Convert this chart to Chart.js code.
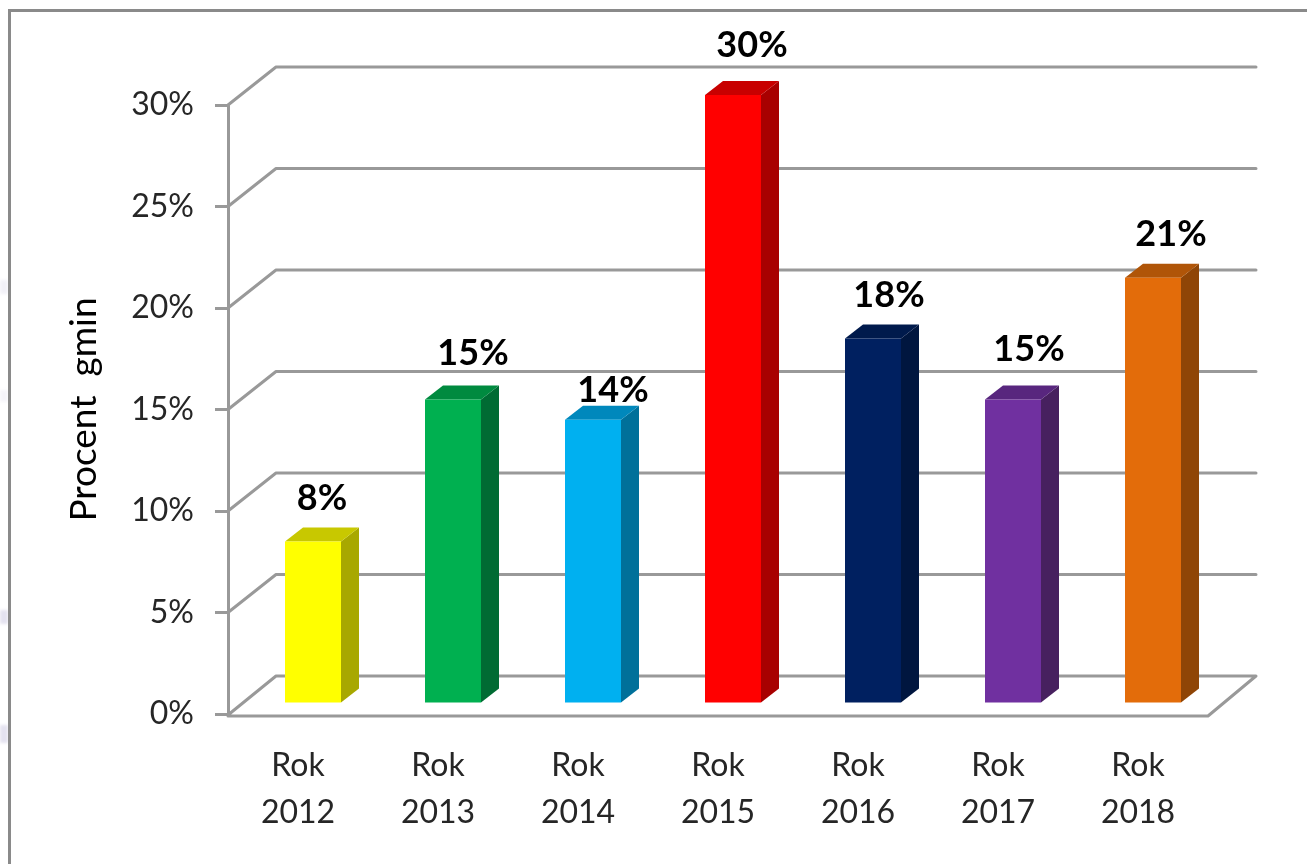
<!DOCTYPE html>
<html><head><meta charset="utf-8">
<style>
html,body{margin:0;padding:0;background:#fff;width:1307px;height:864px;overflow:hidden}
#frame{position:absolute;left:8px;top:9px;width:1299px;height:855px;border-left:3px solid #8a8a8a;border-top:3px solid #8a8a8a;box-sizing:border-box}
.mark{position:absolute;left:0;width:8px;background:#e4e2f0;filter:blur(1.5px)}
canvas{position:absolute;left:0;top:0}
</style>
<script src="https://cdn.jsdelivr.net/npm/chart.js@4"></script>
</head><body>
<div class="mark" style="top:280px;height:14px;opacity:.5"></div>
<div class="mark" style="top:390px;height:12px;opacity:.35"></div>
<div class="mark" style="top:610px;height:14px"></div>
<div class="mark" style="top:725px;height:18px"></div>
<div id="frame"></div>
<canvas id="c" width="1307" height="864"></canvas>
<script>
const categories = [["Rok","2012"],["Rok","2013"],["Rok","2014"],["Rok","2015"],["Rok","2016"],["Rok","2017"],["Rok","2018"]];
const values = [8,15,14,30,18,15,21];
const frontColors = ["#FFFF00","#00B050","#00B0F0","#FF0000","#002060","#7030A0","#E36C0A"];
const topColors   = ["#C8C800","#008A3F","#0088BC","#C80000","#001A4C","#58267E","#B05508"];
const sideColors  = ["#A8A800","#006B33","#00709A","#A80000","#00163F","#47205F","#8F4506"];
const yTicks = [0,5,10,15,20,25,30];
const labelShift = [[9,-43],[20,-46],[20,-29],[19,-50],[16,-43],[16,-50],[18,-43]];
const wallColor = "#999999";
const depthX = 48, depthY = 38;
const barDX = 15, barDY = -10, sideDX = 18, sideDY = 14;
const fontName = "Lato, Carlito, sans-serif";

const threeD = {
  id:"threeD",
  beforeDatasetsDraw(chart){
    const {ctx,chartArea:a,scales:{y}} = chart;
    ctx.save();
    ctx.strokeStyle = wallColor; ctx.lineWidth = 3; ctx.lineJoin="round"; ctx.lineCap="round";
    yTicks.forEach(v=>{
      const py = y.getPixelForValue(v);
      if(v===0) return;
      ctx.beginPath();
      ctx.moveTo(a.left,py); ctx.lineTo(a.left+depthX,py-depthY); ctx.lineTo(a.right+depthX,py-depthY);
      ctx.stroke();
    });
    const b = a.bottom+1;
    ctx.beginPath();
    ctx.moveTo(a.left,b); ctx.lineTo(a.left+depthX,a.bottom-depthY); ctx.lineTo(a.right+depthX,a.bottom-depthY);
    ctx.lineTo(a.right,b+1); ctx.lineTo(a.left,b+1);
    ctx.stroke();
    chart.getDatasetMeta(0).data.forEach((el,i)=>{
      const l = el.x-el.width/2+barDX, r = el.x+el.width/2+barDX, t = el.y+barDY, bt = el.base+barDY;
      ctx.fillStyle = sideColors[i];
      ctx.beginPath(); ctx.moveTo(r,t); ctx.lineTo(r+sideDX,t-sideDY); ctx.lineTo(r+sideDX,bt-sideDY); ctx.lineTo(r,bt); ctx.closePath(); ctx.fill();
      ctx.fillStyle = topColors[i];
      ctx.beginPath(); ctx.moveTo(l,t); ctx.lineTo(l+sideDX,t-sideDY); ctx.lineTo(r+sideDX,t-sideDY); ctx.lineTo(r,t); ctx.closePath(); ctx.fill();
    });
    ctx.restore();
    ctx.save();
    ctx.translate(barDX,barDY);
  },
  afterDatasetsDraw(chart){
    const ctx = chart.ctx;
    ctx.restore();
    ctx.save();
    ctx.fillStyle="#000"; ctx.font="bold 36px "+fontName; ctx.textAlign="center"; ctx.textBaseline="middle";
    chart.getDatasetMeta(0).data.forEach((el,i)=>{
      ctx.fillText(values[i]+"%", el.x+barDX+labelShift[i][0], el.y+barDY+labelShift[i][1]);
    });
    ctx.restore();
  }
};

new Chart(document.getElementById("c"),{
  type:"bar",
  data:{labels:categories,datasets:[{data:values,backgroundColor:frontColors,borderWidth:0,barPercentage:0.4,categoryPercentage:1,clip:false}]},
  plugins:[threeD],
  options:{
    responsive:false,animation:false,
    layout:{padding:{top:105,right:99,left:0,bottom:0}},
    plugins:{legend:{display:false},tooltip:{enabled:false},title:{display:false}},
    scales:{
      x:{
        grid:{display:false},border:{display:false},
        ticks:{color:"#262626",font:{family:fontName,size:32,lineHeight:1.47},padding:20,maxRotation:0,autoSkip:false},
        afterFit(s){s.height=150;}
      },
      y:{
        min:0,max:30,
        afterBuildTicks(s){s.ticks=yTicks.map(v=>({value:v}));},
        grid:{drawOnChartArea:false,color:wallColor,lineWidth:3,tickLength:13},
        border:{color:wallColor,width:3},
        ticks:{color:"#262626",font:{family:fontName,size:32},padding:21,callback:v=>v+"%"},
        title:{display:true,text:"Procent  gmin",color:"#000",font:{family:fontName,size:37},padding:{top:62,bottom:0}},
        afterFit(s){s.width=228;}
      }
    }
  }
});
</script>
</body></html>
